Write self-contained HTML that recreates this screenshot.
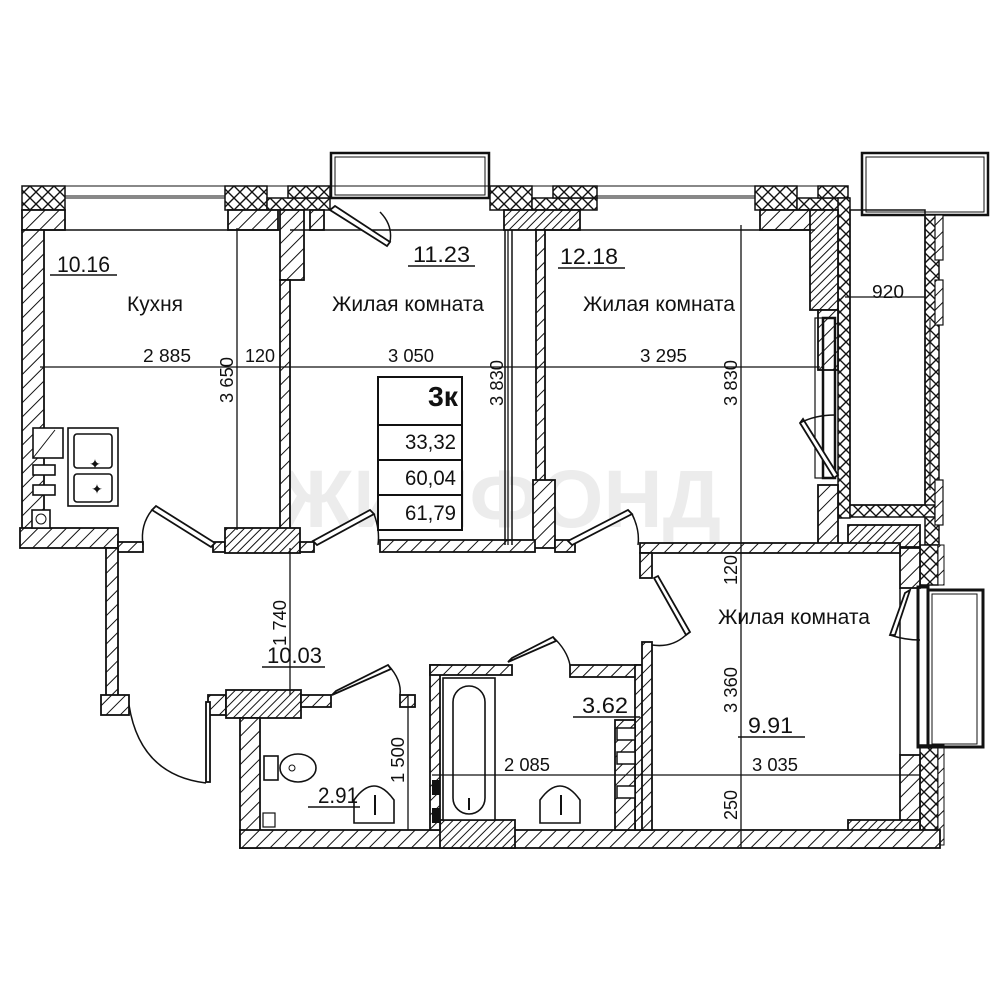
<!DOCTYPE html>
<html><head><meta charset="utf-8"><style>
html,body{margin:0;padding:0;background:#fff;}
svg{display:block;}
text{font-family:"Liberation Sans",sans-serif;fill:#111;}
</style></head><body>
<svg width="1000" height="1000" viewBox="0 0 1000 1000" xmlns="http://www.w3.org/2000/svg">
<defs>
<pattern id="h" width="10" height="10" patternUnits="userSpaceOnUse" patternTransform="rotate(45)">
<rect width="10" height="10" fill="#fff"/><line x1="0" y1="0" x2="0" y2="10" stroke="#111" stroke-width="2"/></pattern>
<pattern id="hd" width="6" height="6" patternUnits="userSpaceOnUse" patternTransform="rotate(45)">
<rect width="6" height="6" fill="#fff"/><line x1="0" y1="0" x2="0" y2="6" stroke="#111" stroke-width="2"/></pattern>
<pattern id="x" width="12" height="12" patternUnits="userSpaceOnUse">
<rect width="12" height="12" fill="#fff"/><path d="M0 0L12 12M12 0L0 12" stroke="#111" stroke-width="1.4"/></pattern>
</defs>
<g stroke="#111" stroke-width="2">
<text x="500" y="527" text-anchor="middle" font-size="82" font-weight="bold" style="fill:#ececec" stroke="none">ЖИЛФОНД</text>

<rect x="331" y="153" width="158" height="45" fill="none" stroke-width="2.5"/>
<rect x="335" y="157" width="150" height="38" fill="none" stroke-width="1"/>
<rect x="862" y="153" width="126" height="62" fill="none" stroke-width="2.5"/>
<rect x="866" y="157" width="118" height="55" fill="none" stroke-width="1"/>

<rect x="22" y="186" width="826" height="12" fill="none" stroke-width="1"/>
<line x1="65" y1="196" x2="225" y2="196" stroke-width="1"/>
<line x1="597" y1="196" x2="755" y2="196" stroke-width="1"/>
<g fill="url(#x)" stroke-width="1.5">
<rect x="22" y="186" width="43" height="24"/>
<rect x="225" y="186" width="42" height="24"/>
<rect x="267" y="198" width="63" height="12"/>
<rect x="288" y="186" width="42" height="12"/>
<rect x="490" y="186" width="42" height="24"/>
<rect x="532" y="198" width="65" height="12"/>
<rect x="553" y="186" width="44" height="12"/>
<rect x="755" y="186" width="42" height="24"/>
<rect x="797" y="198" width="52" height="12"/>
<rect x="818" y="186" width="30" height="12"/>
<rect x="838" y="198" width="12" height="320"/>
<rect x="925" y="215" width="14" height="330"/>
<rect x="850" y="505" width="85" height="12"/>
<rect x="920" y="545" width="18" height="40"/>
<rect x="920" y="745" width="18" height="100"/>
</g>
<rect x="850" y="210" width="75" height="295" fill="none" stroke-width="1.5"/>
<line x1="930" y1="320" x2="930" y2="490" stroke-width="1"/>
<rect x="935" y="215" width="8" height="45" fill="url(#h)" stroke-width="1.2"/>
<rect x="935" y="280" width="8" height="45" fill="url(#h)" stroke-width="1.2"/>
<rect x="935" y="480" width="8" height="45" fill="url(#h)" stroke-width="1.2"/>
<rect x="938" y="545" width="6" height="40" fill="url(#h)" stroke-width="1"/>
<rect x="938" y="745" width="6" height="100" fill="url(#h)" stroke-width="1"/>

<g fill="url(#h)" stroke-width="1.8">
<rect x="22" y="210" width="43" height="20"/>
<rect x="22" y="230" width="22" height="315"/>
<rect x="228" y="210" width="50" height="20"/>
<rect x="280" y="210" width="24" height="70"/>
<rect x="280" y="280" width="10" height="250"/>
<rect x="310" y="210" width="14" height="20"/>
<rect x="504" y="210" width="76" height="20" fill="url(#hd)"/>
<rect x="536" y="230" width="9" height="255"/>
<rect x="533" y="480" width="22" height="68"/>
<rect x="760" y="210" width="55" height="20"/>
<rect x="810" y="210" width="28" height="100" fill="url(#hd)"/>
<rect x="818" y="310" width="20" height="60"/>
<rect x="818" y="485" width="20" height="60"/>
<rect x="848" y="525" width="72" height="22" fill="url(#hd)"/>
<rect x="900" y="548" width="20" height="40"/>
<rect x="900" y="755" width="20" height="75"/>
<rect x="848" y="820" width="72" height="28" fill="url(#hd)"/>
<rect x="20" y="528" width="98" height="20"/>
<rect x="118" y="542" width="25" height="10"/>
<rect x="213" y="542" width="12" height="10"/>
<rect x="225" y="528" width="75" height="25" fill="url(#hd)"/>
<rect x="300" y="542" width="14" height="10"/>
<rect x="380" y="540" width="155" height="12"/>
<rect x="555" y="540" width="20" height="12"/>
<rect x="640" y="543" width="260" height="10"/>
<rect x="640" y="553" width="12" height="25"/>
<rect x="106" y="548" width="12" height="148"/>
<rect x="101" y="695" width="28" height="20"/>
<rect x="208" y="695" width="18" height="20"/>
<rect x="226" y="690" width="75" height="28" fill="url(#hd)"/>
<rect x="240" y="718" width="20" height="130"/>
<rect x="301" y="695" width="30" height="12"/>
<rect x="240" y="830" width="700" height="18"/>
<rect x="440" y="820" width="75" height="28" fill="url(#hd)"/>
<rect x="400" y="695" width="15" height="12"/>
<rect x="430" y="665" width="10" height="165"/>
<rect x="430" y="665" width="82" height="10"/>
<rect x="570" y="665" width="72" height="12"/>
<rect x="635" y="665" width="10" height="165"/>
<rect x="642" y="642" width="10" height="188"/>
<rect x="615" y="720" width="20" height="110"/>
</g>
<g fill="#fff" stroke-width="1.5">
<rect x="617" y="728" width="18" height="12"/><rect x="617" y="752" width="18" height="12"/>
<rect x="617" y="786" width="18" height="12"/>
</g>

<line x1="44" y1="230" x2="280" y2="230" stroke-width="1.5"/>
<line x1="290" y1="230" x2="504" y2="230" stroke-width="1.5"/>
<line x1="545" y1="230" x2="815" y2="230" stroke-width="1.5"/>
<line x1="505" y1="230" x2="505" y2="545" stroke-width="1.5"/>
<line x1="512" y1="230" x2="512" y2="545" stroke-width="1.5"/>

<rect x="815" y="318" width="8" height="160" fill="none" stroke-width="1.2"/>
<rect x="823" y="318" width="12" height="160" fill="none" stroke-width="2.5"/>
<rect x="918" y="587" width="10" height="160" fill="none" stroke-width="3"/>
<rect x="928" y="590" width="55" height="157" fill="none" stroke-width="3"/>
<rect x="932" y="594" width="45" height="150" fill="none" stroke-width="1"/>
<line x1="900" y1="588" x2="900" y2="755" stroke-width="1.5"/>

<g fill="#fff" stroke-width="1.8">
<polygon points="330,210 335,206 390,242 387,246"/>
<polygon points="152,510 156,506 215,543 211,547"/>
<polygon points="317,545 313,541 370,510 374,514"/>
<polygon points="572,545 568,541 628,510 632,514"/>
<polygon points="654,578 658,576 690,632 686,635"/>
<polygon points="800,423 803,419 838,475 834,478"/>
<polygon points="905,593 910,590 895,635 890,635"/>
<polygon points="332,695 336,691 388,665 391,669"/>
<polygon points="508,662 512,658 553,637 556,641"/>
<rect x="206" y="702" width="4" height="80"/>
</g>
<g fill="none" stroke-width="1.5">
<path d="M390 242 Q393 225 380 212"/>
<path d="M152 510 Q140 525 143 545"/>
<path d="M374 514 Q380 530 378 545"/>
<path d="M632 514 Q640 530 638 545"/>
<path d="M686 635 Q672 648 652 645"/>
<path d="M800 423 Q815 415 835 415"/>
<path d="M890 635 Q905 640 920 640"/>
<path d="M129 705 Q140 775 206 783"/>
<path d="M388 665 Q402 680 400 695"/>
<path d="M553 637 Q567 650 570 665"/>
</g>

<g fill="#fff" stroke-width="1.6">
<rect x="33" y="428" width="30" height="30"/><line x1="33" y1="458" x2="55" y2="430" stroke-width="1"/>
<rect x="33" y="465" width="22" height="10"/><rect x="33" y="485" width="22" height="10"/>
<rect x="68" y="428" width="50" height="78"/><rect x="74" y="434" width="38" height="34" rx="3"/><rect x="74" y="474" width="38" height="28" rx="3"/>
<rect x="32" y="510" width="18" height="18"/>
</g>
<circle cx="41" cy="519" r="5" fill="none" stroke-width="1"/>
<text x="95" y="469" font-size="14" stroke="none" text-anchor="middle">✦</text>
<text x="97" y="494" font-size="14" stroke="none" text-anchor="middle">✦</text>

<ellipse cx="298" cy="768" rx="18" ry="14" fill="#fff" stroke-width="1.6"/>
<rect x="264" y="756" width="14" height="24" fill="#fff" stroke-width="1.6"/>
<circle cx="292" cy="768" r="3" fill="none" stroke-width="1"/>
<path d="M354 823 L354 800 Q374 772 394 800 L394 823 Z" fill="#fff" stroke-width="1.6"/>
<path d="M540 823 L540 800 Q560 772 580 800 L580 823 Z" fill="#fff" stroke-width="1.6"/>
<line x1="375" y1="795" x2="375" y2="815" stroke-width="2"/>
<line x1="561" y1="795" x2="561" y2="815" stroke-width="2"/>
<rect x="263" y="813" width="12" height="14" fill="none" stroke-width="1.2"/>
<rect x="443" y="678" width="52" height="142" fill="#fff" stroke-width="1.6"/>
<rect x="453" y="686" width="32" height="128" rx="16" fill="none" stroke-width="1.6"/>
<line x1="469" y1="798" x2="469" y2="810" stroke-width="2"/>
<rect x="432" y="780" width="8" height="15" fill="#111" stroke="none"/>
<rect x="432" y="808" width="8" height="15" fill="#111" stroke="none"/>

<g stroke-width="1.3">
<line x1="40" y1="367" x2="820" y2="367"/>
<line x1="237" y1="228" x2="237" y2="530"/>
<line x1="508" y1="230" x2="508" y2="545"/>
<line x1="741" y1="225" x2="741" y2="548"/>
<line x1="290" y1="548" x2="290" y2="695"/>
<line x1="741" y1="548" x2="741" y2="848"/>
<line x1="845" y1="297" x2="925" y2="297"/>
<line x1="408" y1="695" x2="408" y2="830"/>
<line x1="432" y1="775" x2="920" y2="775"/>
</g>
<g stroke-width="1.5">
<line x1="50" y1="275" x2="117" y2="275"/>
<line x1="408" y1="266" x2="475" y2="266"/>
<line x1="558" y1="268" x2="625" y2="268"/>
<line x1="262" y1="667" x2="325" y2="667"/>
<line x1="573" y1="717" x2="640" y2="717"/>
<line x1="738" y1="737" x2="805" y2="737"/>
<line x1="308" y1="807" x2="360" y2="807"/>
</g>

<g fill="#fff" stroke-width="2">
<rect x="378" y="377" width="84" height="48"/>
<rect x="378" y="425" width="84" height="35"/>
<rect x="378" y="460" width="84" height="35"/>
<rect x="378" y="495" width="84" height="35"/>
</g>
</g>

<g stroke="none">
<text x="428" y="406" font-size="28" font-weight="bold" textLength="30" lengthAdjust="spacingAndGlyphs">3к</text>
<text x="405" y="449" font-size="21" textLength="51" lengthAdjust="spacingAndGlyphs">33,32</text>
<text x="405" y="485" font-size="21" textLength="51" lengthAdjust="spacingAndGlyphs">60,04</text>
<text x="405" y="520" font-size="21" textLength="51" lengthAdjust="spacingAndGlyphs">61,79</text>

<g font-size="22" lengthAdjust="spacingAndGlyphs">
<text x="57" y="272" textLength="53" lengthAdjust="spacingAndGlyphs">10.16</text>
<text x="413" y="262" textLength="57" lengthAdjust="spacingAndGlyphs">11.23</text>
<text x="560" y="264" textLength="58" lengthAdjust="spacingAndGlyphs">12.18</text>
<text x="267" y="663" textLength="55" lengthAdjust="spacingAndGlyphs">10.03</text>
<text x="582" y="713" textLength="46" lengthAdjust="spacingAndGlyphs">3.62</text>
<text x="748" y="733" textLength="45" lengthAdjust="spacingAndGlyphs">9.91</text>
<text x="318" y="803" textLength="40" lengthAdjust="spacingAndGlyphs">2.91</text>
</g>
<g font-size="21">
<text x="127" y="311" textLength="56" lengthAdjust="spacingAndGlyphs">Кухня</text>
<text x="332" y="311" textLength="152" lengthAdjust="spacingAndGlyphs">Жилая комната</text>
<text x="583" y="311" textLength="152" lengthAdjust="spacingAndGlyphs">Жилая комната</text>
<text x="718" y="624" textLength="152" lengthAdjust="spacingAndGlyphs">Жилая комната</text>
</g>
<g font-size="18">
<text x="143" y="362" textLength="48" lengthAdjust="spacingAndGlyphs">2 885</text>
<text x="245" y="362" textLength="30" lengthAdjust="spacingAndGlyphs">120</text>
<text x="388" y="362" textLength="46" lengthAdjust="spacingAndGlyphs">3 050</text>
<text x="640" y="362" textLength="47" lengthAdjust="spacingAndGlyphs">3 295</text>
<text x="872" y="298" textLength="32" lengthAdjust="spacingAndGlyphs">920</text>
<text x="504" y="771" textLength="46" lengthAdjust="spacingAndGlyphs">2 085</text>
<text x="752" y="771" textLength="46" lengthAdjust="spacingAndGlyphs">3 035</text>
<g text-anchor="middle">
<text transform="translate(233,380) rotate(-90)" textLength="46" lengthAdjust="spacingAndGlyphs">3 650</text>
<text transform="translate(503,383) rotate(-90)" textLength="46" lengthAdjust="spacingAndGlyphs">3 830</text>
<text transform="translate(737,383) rotate(-90)" textLength="46" lengthAdjust="spacingAndGlyphs">3 830</text>
<text transform="translate(286,623) rotate(-90)" textLength="46" lengthAdjust="spacingAndGlyphs">1 740</text>
<text transform="translate(737,570) rotate(-90)" textLength="30" lengthAdjust="spacingAndGlyphs">120</text>
<text transform="translate(737,690) rotate(-90)" textLength="46" lengthAdjust="spacingAndGlyphs">3 360</text>
<text transform="translate(737,805) rotate(-90)" textLength="30" lengthAdjust="spacingAndGlyphs">250</text>
<text transform="translate(404,760) rotate(-90)" textLength="46" lengthAdjust="spacingAndGlyphs">1 500</text>
</g>
</g>
</g>
</svg>
</body></html>
